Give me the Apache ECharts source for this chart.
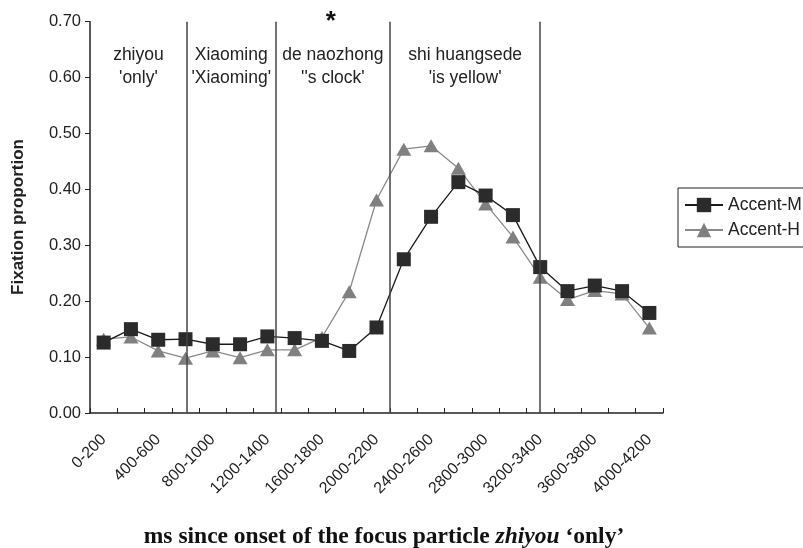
<!DOCTYPE html>
<html>
<head>
<meta charset="utf-8">
<script src="https://cdn.jsdelivr.net/npm/echarts@6/dist/echarts.min.js"></script>
<style>html,body{margin:0;padding:0;background:#fff;}#c{width:803px;height:548px;}</style>
</head>
<body>
<div id="c"></div>
<script>
const categories = ['0-200','200-400','400-600','600-800','800-1000','1000-1200','1200-1400','1400-1600','1600-1800','1800-2000','2000-2200','2200-2400','2400-2600','2600-2800','2800-3000','3000-3200','3200-3400','3400-3600','3600-3800','3800-4000','4000-4200'];
const accentM = [0.126,0.150,0.131,0.132,0.123,0.123,0.137,0.134,0.129,0.111,0.153,0.275,0.351,0.413,0.389,0.354,0.261,0.218,0.228,0.218,0.179];
const accentH = [0.132,0.136,0.111,0.098,0.111,0.099,0.113,0.113,0.135,0.217,0.381,0.472,0.478,0.438,0.374,0.315,0.243,0.203,0.219,0.213,0.152];
const yTicks = [0,0.1,0.2,0.3,0.4,0.5,0.6,0.7];
const boundariesMs = [710, 1360, 2200, 3300];
const regionLabels = ["zhiyou\n'only'", "Xiaoming\n'Xiaoming'", "de naozhong\n''s clock'", "shi huangsede\n'is yellow'"];
const regionStartMs = 0;
const starRegion = 2;

const chart = echarts.init(document.getElementById('c'));
const FONT = '"Liberation Sans", Arial, sans-serif';
const SERIF = '"Liberation Serif", "Times New Roman", serif';

const option = {
  animation: false,
  backgroundColor: '#fff',
  textStyle: { fontFamily: FONT },
  grid: { left: 90, right: 140, top: 21.7, bottom: 135 },
  xAxis: [{
    type: 'category',
    data: categories,
    boundaryGap: true,
    axisLine: { lineStyle: { color: '#222', width: 1.5 } },
    axisTick: { show: true, inside: true, length: 5, interval: 0, lineStyle: { color: '#222' } },
    axisLabel: { interval: 1, rotate: 45, fontSize: 16, color: '#222', margin: 24, fontFamily: FONT },
    splitLine: { show: false }
  }, {
    type: 'value', min: 0, max: 4200, show: false
  }],
  yAxis: {
    type: 'value', min: yTicks[0], max: yTicks[yTicks.length - 1], interval: 0.1,
    axisLine: { show: true, lineStyle: { color: '#222', width: 1.5 } },
    axisTick: { show: true, length: 5, lineStyle: { color: '#222' } },
    axisLabel: { fontSize: 16.5, color: '#222', margin: 9, formatter: v => v.toFixed(2), fontFamily: FONT },
    splitLine: { show: false }
  },
  legend: {
    orient: 'vertical', left: 678, top: 188,
    borderColor: '#222', borderWidth: 1, padding: [8, 8, 8, 6],
    itemWidth: 38, itemHeight: 18, itemGap: 7,
    textStyle: { fontSize: 17.5, color: '#222', fontFamily: FONT },
    data: ['Accent-M', 'Accent-H']
  },
  series: [{
    name: 'bounds', type: 'line', xAxisIndex: 1, data: [], silent: true,
    markLine: {
      symbol: 'none', silent: true, label: { show: false },
      lineStyle: { color: '#444', width: 1.5, type: 'solid' },
      data: boundariesMs.map(v => ({ xAxis: v }))
    }
  }, {
    name: 'Accent-H', type: 'line', data: accentH,
    symbol: 'triangle', symbolSize: [15, 13],
    itemStyle: { color: '#808080' },
    lineStyle: { color: '#8a8a8a', width: 1.3 }, z: 3
  }, {
    name: 'Accent-M', type: 'line', data: accentM,
    symbol: 'rect', symbolSize: 14,
    itemStyle: { color: '#2b2b2b' },
    lineStyle: { color: '#1a1a1a', width: 1.3 }, z: 4
  }]
};
chart.setOption(option);

const edges = [regionStartMs].concat(boundariesMs);
const graphics = [];
regionLabels.forEach((t, i) => {
  const mid = (edges[i] + edges[i + 1]) / 2;
  const p = chart.convertToPixel({ xAxisIndex: 1, yAxisIndex: 0 }, [mid, 0.62]);
  graphics.push({
    type: 'text', x: p[0], y: p[1],
    style: { text: t, fill: '#222', font: '17.5px ' + FONT, align: 'center', verticalAlign: 'middle', lineHeight: 23 }
  });
});
const sp = chart.convertToPixel({ xAxisIndex: 1, yAxisIndex: 0 }, [(edges[starRegion] + edges[starRegion + 1]) / 2, 0.70]);
graphics.push({
  type: 'text', x: sp[0] - 2, y: sp[1],
  style: { text: '*', fill: '#111', font: 'bold 26px ' + FONT, align: 'center', verticalAlign: 'middle' }
});
graphics.push({
  type: 'text', x: 18, y: 217, rotation: Math.PI / 2,
  style: { text: 'Fixation proportion', fill: '#222', font: 'bold 17px ' + FONT, align: 'center', verticalAlign: 'middle' }
});
graphics.push({
  type: 'text', x: 384, y: 537,
  style: {
    text: '{b|ms since onset of the focus particle }{i|zhiyou}{b| \u2018only\u2019}',
    align: 'center', verticalAlign: 'middle',
    rich: {
      b: { fontFamily: SERIF, fontWeight: 'bold', fontSize: 23.5, fill: '#111' },
      i: { fontFamily: SERIF, fontWeight: 'bold', fontStyle: 'italic', fontSize: 23.5, fill: '#111' }
    }
  }
});
chart.setOption({ graphic: graphics });
</script>
</body>
</html>
